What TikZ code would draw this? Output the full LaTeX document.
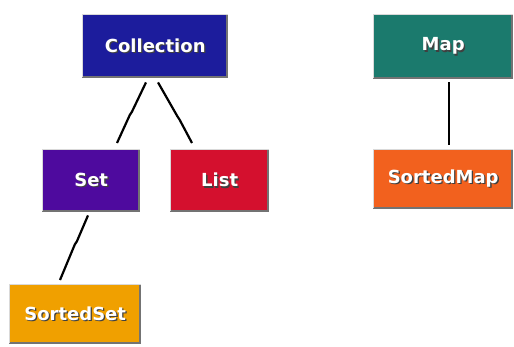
\documentclass[tikz,border=0pt]{standalone}
\usepackage{fontspec}
\setmainfont{DejaVu Sans}
\definecolor{collblue}{HTML}{1C1C9C}
\definecolor{setpurple}{HTML}{4E0A9E}
\definecolor{listred}{HTML}{D4102E}
\definecolor{ssorange}{HTML}{F0A000}
\definecolor{mapteal}{HTML}{1B7A6D}
\definecolor{smorange}{HTML}{F2611E}
% white label with a dark drop shadow
\newcommand\embossed[1]{\makebox[0pt][l]{\hspace{1.3pt}\raisebox{-1.3pt}{\color{black!75}#1}}#1}
\tikzset{
  classbox/.style={draw=none, fill=#1, text=white, font=\bfseries\fontsize{18}{20}\selectfont,
    inner sep=0pt, anchor=north west},
  link/.style={black, line width=2.2pt},
}
\newcommand\bevel[1]{%
  \draw[black!55, line width=2pt] ([xshift=-1pt]#1.north east) -- ([xshift=-1pt,yshift=1pt]#1.south east) -- ([yshift=1pt]#1.south west);
  \draw[white!70!gray, line width=1pt] ([yshift=1pt]#1.south west) -- ([yshift=-0.5pt]#1.north west) -- ([yshift=-0.5pt]#1.north east);
}
\begin{document}
\begin{tikzpicture}[x=1pt, y=-1pt]
  \useasboundingbox (0,0) rectangle (514,346);
  \fill[white] (0,0) rectangle (514,346);

  \node[classbox=collblue, minimum width=146pt, minimum height=64pt] (coll) at (82,14) {\embossed{Collection}};
  \node[classbox=setpurple, minimum width=98pt, minimum height=63pt] (set) at (42,149) {\embossed{Set}};
  \node[classbox=listred, minimum width=99pt, minimum height=63pt] (list) at (170,149) {\embossed{List}};
  \node[classbox=ssorange, minimum width=132pt, minimum height=60pt] (sset) at (9,284) {\embossed{SortedSet}};
  \node[classbox=mapteal, minimum width=140pt, minimum height=65pt] (map) at (373,14) {\embossed{Map}};
  \node[classbox=smorange, minimum width=140pt, minimum height=60pt] (smap) at (373,149) {\embossed{SortedMap}};

  \bevel{coll}
  \bevel{set}
  \bevel{list}
  \bevel{sset}
  \bevel{map}
  \bevel{smap}

  % inheritance links: straight strokes with a small step halfway
  \coordinate (c1) at (131.8,112);
  \coordinate (c2) at (129.8,115);
  \draw[link] ([shift={(64,4)}]coll.south west) -- (c1) -- (c2) -- ([shift={(75,-6)}]set.north west);

  \coordinate (l1) at (177.5,116.5);
  \coordinate (l2) at (179.5,119.5);
  \draw[link] ([shift={(76,4)}]coll.south west) -- (l1) -- (l2) -- ([shift={(22,-6)}]list.north west);

  \coordinate (s1) at (76.8,241.5);
  \coordinate (s2) at (74.8,244.5);
  \draw[link] ([shift={(46,3)}]set.south west) -- (s1) -- (s2) -- ([shift={(51,-4)}]sset.north west);

  \draw[link] ([shift={(76,3)}]map.south west) -- ([shift={(76,-4)}]smap.north west);
\end{tikzpicture}
\end{document}
